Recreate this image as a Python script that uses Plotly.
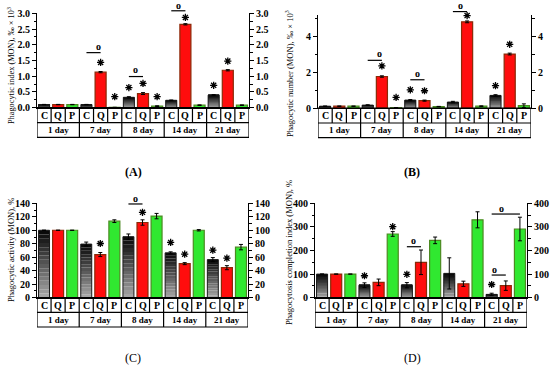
import plotly.graph_objects as go

# ---------------- data ----------------
groups = ["1 day", "7 day", "8 day", "14 day", "21 day"]
series = ["C", "Q", "P"]

# (A) Phagocytic index (MON), ‰ × 10³
A_C = [0.10, 0.10, 0.33, 0.235, 0.40]
A_Q = [0.10, 1.13, 0.45, 2.65, 1.19]
A_P = [0.10, 0.01, 0.05, 0.08, 0.08]
A_C_err = [0.005, 0.005, 0.02, 0.01, 0.015]
A_Q_err = [0.005, 0.02, 0.03, 0.02, 0.02]
A_P_err = [0.005, 0.003, 0.01, 0.01, 0.01]

# (B) Phagocytic number (MON), ‰ × 10³
B_C = [0.10, 0.16, 0.44, 0.33, 0.70]
B_Q = [0.10, 1.75, 0.41, 4.79, 3.00]
B_P = [0.10, 0.02, 0.08, 0.10, 0.13]
B_C_err = [0.01, 0.02, 0.03, 0.04, 0.04]
B_Q_err = [0.01, 0.04, 0.03, 0.05, 0.05]
B_P_err = [0.01, 0.005, 0.01, 0.02, 0.10]

# (C) Phagocytic activity (MON), %
C_C = [100, 79.5, 90.5, 66.5, 56.5]
C_Q = [100, 64, 111.5, 50.5, 44.5]
C_P = [100, 113.5, 121, 100, 75]
C_C_err = [0, 3, 4, 1.5, 3]
C_Q_err = [0, 3, 4, 1.5, 3]
C_P_err = [0, 2, 4, 1, 4]

# (D) Phagocytosis completion index (MON), %
D_C = [100, 53, 53, 103, 14]
D_Q = [100, 65, 150, 59, 51]
D_P = [100, 270, 243, 330, 291]
D_C_err = [0, 10, 11, 66, 5]
D_Q_err = [0, 14, 52, 11, 20]
D_P_err = [0, 10, 14, 34, 50]

# significance marks: (group, series, y)
A_stars = [(1, 1, 1.44), (1, 2, 0.35), (2, 0, 0.64), (2, 1, 0.77), (2, 2, 0.35),
           (3, 1, 2.87), (4, 0, 0.71), (4, 1, 1.48)]
B_stars = [(1, 1, 2.34), (1, 2, 0.59), (2, 0, 1.01), (2, 1, 0.96), (3, 1, 5.14),
           (4, 0, 1.24), (4, 1, 3.54)]
C_stars = [(1, 1, 80.4), (2, 1, 126.6), (3, 0, 82), (3, 1, 64.5), (4, 0, 70.5), (4, 1, 58.6)]
D_stars = [(1, 0, 93), (1, 2, 301), (2, 0, 99), (4, 0, 56)]
# brackets: (group, from series, to series, line y, circle y)
A_brackets = [(1, 0, 1, 1.75, 1.91), (2, 0, 1, 0.99, 1.19), (3, 0, 1, 3.08, 3.23)]
B_brackets = [(1, 0, 1, 2.65, 3.0), (2, 0, 1, 1.57, 1.84), (3, 0, 1, 5.36, 5.66)]
C_brackets = [(2, 0, 1, 139, 146)]
D_brackets = [(2, 0, 1, 216, 237), (4, 0, 1, 96, 116), (4, 0, 2, 354.5, 373)]

# ---------------- layout helpers ----------------
W, H = 550, 367
def fx(p): return p / W
def fy(p): return 1 - p / H

FONT = "Liberation Serif"
NCELL = 15

panels = [
    dict(C=A_C, Q=A_Q, P=A_P, eC=A_C_err, eQ=A_Q_err, eP=A_P_err,
         xs=(37, 249), ys=(13.3, 107.7), rng=[0, 3], dtick=0.5, minor=0.25, fmt=".1f",
         rows=(107.7, 122.7, 137.3), title="Phagocytic index (MON), ‰ × 10<sup>3</sup>",
         tpos=(11, 66), tsize=8.3, label="<b>(A)</b>", lpos=(133, 172),
         stars=A_stars, brackets=A_brackets),
    dict(C=B_C, Q=B_Q, P=B_P, eC=B_C_err, eQ=B_Q_err, eP=B_P_err,
         xs=(318, 531), ys=(15, 108), rng=[0, 5.17], dtick=2, minor=1, fmt="d",
         rows=(108, 123, 137.7), title="Phagocytic number (MON), ‰ × 10<sup>3</sup>",
         tpos=(290, 74), tsize=8.5, label="<b>(B)</b>", lpos=(412, 172),
         stars=B_stars, brackets=B_brackets),
    dict(C=C_C, Q=C_Q, P=C_P, eC=C_C_err, eQ=C_Q_err, eP=C_P_err,
         xs=(37, 248), ys=(203.3, 297.7), rng=[0, 140], dtick=20, minor=10, fmt="d",
         rows=(297.7, 312.3, 327), title="Phagocytic activity (MON), %",
         tpos=(11, 250), tsize=8.5, label="(C)", lpos=(133, 358),
         stars=C_stars, brackets=C_brackets),
    dict(C=D_C, Q=D_Q, P=D_P, eC=D_C_err, eQ=D_Q_err, eP=D_P_err,
         xs=(315, 527), ys=(203.3, 297.7), rng=[0, 400], dtick=100, minor=50, fmt="d",
         rows=(297.7, 312.3, 327.3), title="Phagocytosis completion index (MON), %",
         tpos=(289, 253), tsize=8.5, label="(D)", lpos=(412, 358),
         stars=D_stars, brackets=D_brackets),
]

fig = go.Figure()
shapes, annotations = [], []
layout = {}

N_SLICES = 16
def grey(k):
    t = k / (N_SLICES - 1)
    v = int(165 - t * 155)
    return f"rgb({v},{v},{v})"

for i, p in enumerate(panels):
    n = i + 1
    xr = "x" if n == 1 else f"x{n}"
    yr = "y" if n == 1 else f"y{n}"
    yr2 = f"y{n + 4}"
    xC = [g * 3 + 0 for g in range(len(groups))]
    xQ = [g * 3 + 1 for g in range(len(groups))]
    xP = [g * 3 + 2 for g in range(len(groups))]
    bw = 0.78
    lo, hi = p["rng"]
    def ydom(v): return (v - lo) / (hi - lo)
    def xdom(pos): return (pos + 0.5) / NCELL

    # gradient control bars (grey -> black)
    for k in range(N_SLICES):
        fig.add_trace(go.Bar(
            x=xC, y=[v / N_SLICES for v in p["C"]], base=[v * k / N_SLICES for v in p["C"]],
            width=bw, marker=dict(color=grey(k), line=dict(width=0)),
            xaxis=xr, yaxis=yr, showlegend=False, hoverinfo="skip"))
    fig.add_trace(go.Bar(
        x=xC, y=p["C"], width=bw,
        marker=dict(color="rgba(0,0,0,0)", line=dict(color="#1a1a1a", width=1)),
        error_y=dict(type="data", array=p["eC"], color="black", thickness=1, width=2),
        xaxis=xr, yaxis=yr, showlegend=False, name="C"))
    fig.add_trace(go.Bar(
        x=xQ, y=p["Q"], width=bw,
        marker=dict(color="#ff0d0d", line=dict(color="#8a2a08", width=1.2)),
        error_y=dict(type="data", array=p["eQ"], color="black", thickness=1, width=2),
        xaxis=xr, yaxis=yr, showlegend=False, name="Q"))
    fig.add_trace(go.Bar(
        x=xP, y=p["P"], width=bw,
        marker=dict(color="#30e830", line=dict(color="#4c8a22", width=1.2)),
        error_y=dict(type="data", array=p["eP"], color="black", thickness=1, width=2),
        xaxis=xr, yaxis=yr, showlegend=False, name="P"))
    # invisible trace for right-hand axis
    fig.add_trace(go.Scatter(
        x=xC, y=p["C"], mode="markers", marker=dict(opacity=0, size=1, color="white"),
        xaxis=xr, yaxis=yr2, showlegend=False, hoverinfo="skip"))

    # significance stars as asterisk markers
    fig.add_trace(go.Scatter(
        x=[g * 3 + s for (g, s, y) in p["stars"]], y=[y for (g, s, y) in p["stars"]],
        mode="markers", cliponaxis=False,
        marker=dict(symbol="asterisk-open", size=6, color="black",
                    line=dict(color="black", width=1.3)),
        xaxis=xr, yaxis=yr, showlegend=False, hoverinfo="skip"))

    # significance brackets (axis-domain refs so they are not clipped above the range)
    for (g, s0, s1, ly, oy) in p["brackets"]:
        shapes.append(dict(type="line", xref=f"{xr} domain", yref=f"{yr} domain",
                           x0=xdom(g * 3 + s0), x1=xdom(g * 3 + s1),
                           y0=ydom(ly), y1=ydom(ly), line=dict(color="black", width=1.2)))
        annotations.append(dict(x=xdom(g * 3 + (s0 + s1) / 2), y=ydom(oy),
                                xref=f"{xr} domain", yref=f"{yr} domain",
                                text="<b>o</b>", showarrow=False, yanchor="middle", yshift=1,
                                font=dict(family=FONT, size=10, color="black")))

    axis_common = dict(range=p["rng"], dtick=p["dtick"], tick0=0, ticks="outside", ticklen=4,
                       tickwidth=1, tickcolor="black", showline=True, linecolor="black",
                       linewidth=1, showgrid=False, zeroline=False, tickformat=p["fmt"],
                       automargin=False,
                       tickfont=dict(family=FONT, size=10, color="black", weight="bold"),
                       minor=dict(dtick=p["minor"], ticks="outside", ticklen=2.5,
                                  tickcolor="black", tickwidth=1),
                       domain=[fy(p["ys"][1]), fy(p["ys"][0])])
    layout["xaxis" if n == 1 else f"xaxis{n}"] = dict(
        domain=[fx(p["xs"][0]), fx(p["xs"][1])], range=[-0.5, 14.5], automargin=False,
        showticklabels=False, ticks="", showgrid=False, zeroline=False,
        showline=True, linecolor="black", linewidth=1, anchor=yr)
    layout["yaxis" if n == 1 else f"yaxis{n}"] = dict(anchor=xr, side="left", **axis_common)
    layout[f"yaxis{n + 4}"] = dict(anchor=xr, side="right", overlaying=yr, **axis_common)

    # category table
    r0, r1, r2 = p["rows"]
    lw = 1.2
    shapes.append(dict(type="rect", xref=xr, yref="paper", x0=-0.5, x1=14.5,
                       y0=fy(r2), y1=fy(r0), line=dict(color="black", width=lw)))
    shapes.append(dict(type="line", xref=xr, yref="paper", x0=-0.5, x1=14.5,
                       y0=fy(r1), y1=fy(r1), line=dict(color="black", width=lw)))
    for k in range(14):
        bottom = r2 if (k + 1) % 3 == 0 else r1
        shapes.append(dict(type="line", xref=xr, yref="paper", x0=k + 0.5, x1=k + 0.5,
                           y0=fy(bottom), y1=fy(r0), line=dict(color="black", width=lw)))
    for g, gl in enumerate(groups):
        for s, sl in enumerate(series):
            annotations.append(dict(x=g * 3 + s, y=fy((r0 + r1) / 2), xref=xr, yref="paper",
                                    text=f"<b>{sl}</b>", showarrow=False, yanchor="middle",
                                    font=dict(family=FONT, size=10, color="black")))
        annotations.append(dict(x=g * 3 + 1, y=fy((r1 + r2) / 2), xref=xr, yref="paper",
                                text=f"<b>{gl}</b>", showarrow=False, yanchor="middle",
                                font=dict(family=FONT, size=9, color="black")))
    # y-axis title
    annotations.append(dict(x=fx(p["tpos"][0]), y=fy(p["tpos"][1]), xref="paper", yref="paper",
                            text=p["title"], textangle=-90, showarrow=False,
                            xanchor="center", yanchor="middle",
                            font=dict(family=FONT, size=p["tsize"], color="black")))
    # panel label
    annotations.append(dict(x=fx(p["lpos"][0]), y=fy(p["lpos"][1]), xref="paper", yref="paper",
                            text=p["label"], showarrow=False, xanchor="center", yanchor="middle",
                            font=dict(family=FONT, size=12, color="black")))

fig.update_layout(
    width=W, height=H, margin=dict(l=0, r=0, t=0, b=0),
    paper_bgcolor="white", plot_bgcolor="white", barmode="overlay",
    shapes=shapes, annotations=annotations, showlegend=False, **layout)

# remove the default page margin so the 550x367 figure fills the window exactly
fig.write_html("out.html", config={"displayModeBar": False},
               post_script="document.body.style.margin='0px';")
